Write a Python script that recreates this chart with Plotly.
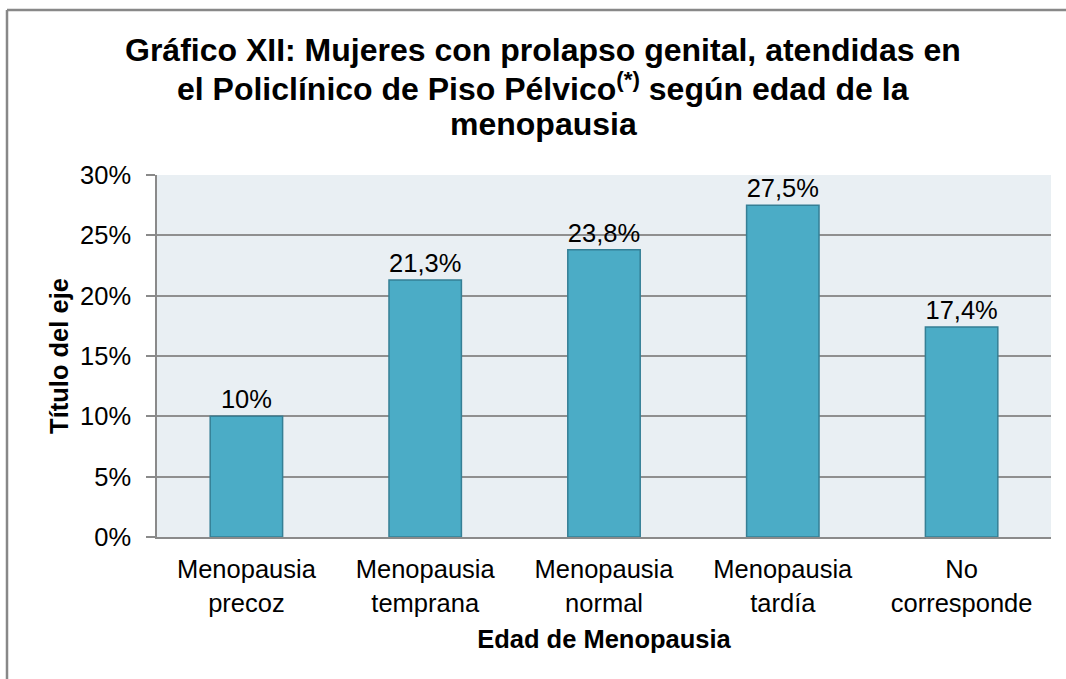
import plotly.graph_objects as go

categories = ["Menopausia<br>precoz", "Menopausia<br>temprana", "Menopausia<br>normal",
              "Menopausia<br>tardía", "No<br>corresponde"]
values = [0.10, 0.213, 0.238, 0.275, 0.174]
y_ticks = [0, 0.05, 0.10, 0.15, 0.20, 0.25, 0.30]
y_tick_labels = ["0%", "5%", "10%", "15%", "20%", "25%", "30%"]
title_lines = [
    "<b>Gráfico XII: Mujeres con prolapso genital, atendidas en</b>",
    "<b>el Policlínico de Piso Pélvico<sup>(*)</sup> según edad de la</b>",
    "<b>menopausia</b>",
]

def fmt(v):
    s = f"{v*100:.1f}"
    if s.endswith(".0"):
        s = s[:-2]
    return s.replace(".", ",") + "%"

labels = [fmt(v) for v in values]

W, H = 1066, 679
L, R, T, B = 157, 1051, 175, 537
pw, ph = R - L, B - T

def px(x):
    return (x - L) / pw

def py(y):
    return (B - y) / ph

FONT = "Liberation Sans, Arial, sans-serif"
GRAY = "#8a8a8a"

fig = go.Figure(go.Bar(
    x=categories, y=values, text=labels, textposition="outside",
    textfont=dict(size=25.5, color="#000000", family=FONT),
    marker=dict(color="#4BACC6", line=dict(color="#357F95", width=1.5)),
    cliponaxis=False, width=0.405,
))

fig.update_layout(
    width=W, height=H,
    margin=dict(l=L, r=W - R, t=T, b=H - B),
    paper_bgcolor="white", plot_bgcolor="#E9EFF3",
    font=dict(family=FONT, size=25.5, color="#000000"),
    separators=",.",
    showlegend=False,
    xaxis=dict(
        showline=True, linecolor=GRAY, linewidth=1.5,
        ticks="outside", ticklen=9, tickcolor="rgba(0,0,0,0)",
        tickfont=dict(size=25.5),
        title=dict(text="<b>Edad de Menopausia</b>", font=dict(size=25.5), standoff=15),
    ),
    yaxis=dict(
        range=[0, 0.30], tickvals=y_ticks, ticktext=y_tick_labels,
        showline=True, linecolor=GRAY, linewidth=1.5,
        ticks="outside", ticklen=9, tickcolor=GRAY, tickwidth=1.5,
        ticklabelstandoff=10,
        showgrid=True, gridcolor="#8f8f8f", gridwidth=1.5,
        tickfont=dict(size=25.5),
        title=dict(text="<b>Título del eje</b>", font=dict(size=25.5), standoff=4),
        zeroline=False,
    ),
)

title_centers = [50, 87, 124]
for line, yc in zip(title_lines, title_centers):
    fig.add_annotation(text=line, xref="paper", yref="paper",
                       x=px(543), y=py(yc), xanchor="center", yanchor="middle",
                       showarrow=False, font=dict(size=32, family=FONT, color="#000000"))

fig.add_shape(type="line", xref="paper", yref="paper",
              x0=px(7), x1=px(7), y0=py(10), y1=py(700),
              line=dict(color="#888888", width=2.5))
fig.add_shape(type="line", xref="paper", yref="paper",
              x0=px(7), x1=px(1100), y0=py(10), y1=py(10),
              line=dict(color="#888888", width=2.5))

fig.write_html("out.html", config={"displayModeBar": False},
               post_script="document.body.style.margin='0';")
